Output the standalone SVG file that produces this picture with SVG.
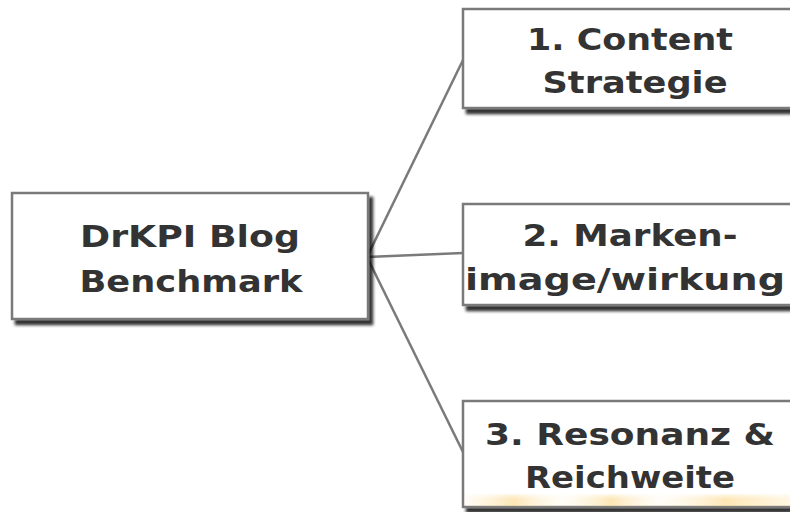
<svg xmlns="http://www.w3.org/2000/svg" width="790" height="512" viewBox="0 0 790 512">
<defs>
<filter id="sh" x="-10%" y="-10%" width="130%" height="130%">
<feGaussianBlur in="SourceAlpha" stdDeviation="1.5"/>
<feOffset dx="4" dy="5" result="b"/>
<feComponentTransfer><feFuncA type="linear" slope="0.8"/></feComponentTransfer>
<feMerge><feMergeNode/><feMergeNode in="SourceGraphic"/></feMerge>
</filter>
<linearGradient id="glow" x1="0" y1="0" x2="1" y2="0">
<stop offset="0" stop-color="#fde3a0" stop-opacity="0.1"/>
<stop offset="0.15" stop-color="#fbd27a" stop-opacity="0.55"/>
<stop offset="0.3" stop-color="#fff2cc" stop-opacity="0.15"/>
<stop offset="0.45" stop-color="#fbd27a" stop-opacity="0.55"/>
<stop offset="0.6" stop-color="#fff2cc" stop-opacity="0.15"/>
<stop offset="0.8" stop-color="#fbd27a" stop-opacity="0.55"/>
<stop offset="1" stop-color="#fde3a0" stop-opacity="0.3"/>
</linearGradient>
<linearGradient id="fade" x1="0" y1="0" x2="0" y2="1">
<stop offset="0" stop-color="#fff" stop-opacity="1"/>
<stop offset="1" stop-color="#fff" stop-opacity="0"/>
</linearGradient>
</defs>
<style>
.box{fill:#fff;stroke:#7a7a7a;stroke-width:2.5}
.t{font-family:"DejaVu Sans",Verdana,sans-serif;font-weight:bold;font-size:31px;fill:#333;text-anchor:middle}
.c{stroke:#7a7a7a;stroke-width:2.5;fill:none}
</style>
<rect width="790" height="512" fill="#fff"/>
<g id="connectors">
<line class="c" x1="367" y1="257" x2="463" y2="60"/>
<line class="c" x1="367" y1="257" x2="463" y2="253"/>
<line class="c" x1="367" y1="257" x2="463" y2="452"/>
</g>
<g id="root">
<rect class="box" x="12" y="193" width="356" height="126" filter="url(#sh)"/>
<text class="t" x="190" y="247" textLength="220" lengthAdjust="spacingAndGlyphs">DrKPI Blog</text>
<text class="t" x="191" y="292" textLength="223" lengthAdjust="spacingAndGlyphs">Benchmark</text>
</g>
<g id="n1">
<rect class="box" x="463" y="9" width="340" height="99" filter="url(#sh)"/>
<text class="t" x="630" y="50" textLength="206" lengthAdjust="spacingAndGlyphs">1. Content</text>
<text class="t" x="635" y="93" textLength="185" lengthAdjust="spacingAndGlyphs">Strategie</text>
</g>
<g id="n2">
<rect class="box" x="463" y="204" width="340" height="101" filter="url(#sh)"/>
<text class="t" x="630" y="246" textLength="215" lengthAdjust="spacingAndGlyphs">2. Marken-</text>
<text class="t" x="625" y="290" textLength="320" lengthAdjust="spacingAndGlyphs">image/wirkung</text>
</g>
<g id="n3">
<rect class="box" x="463" y="401" width="340" height="106" filter="url(#sh)"/>
<rect x="465" y="494" width="325" height="12" fill="url(#glow)"/>
<rect x="465" y="492" width="325" height="7" fill="url(#fade)"/>
<text class="t" x="630" y="445" textLength="290" lengthAdjust="spacingAndGlyphs">3. Resonanz &amp;</text>
<text class="t" x="630" y="488" textLength="210" lengthAdjust="spacingAndGlyphs">Reichweite</text>
</g>
</svg>
